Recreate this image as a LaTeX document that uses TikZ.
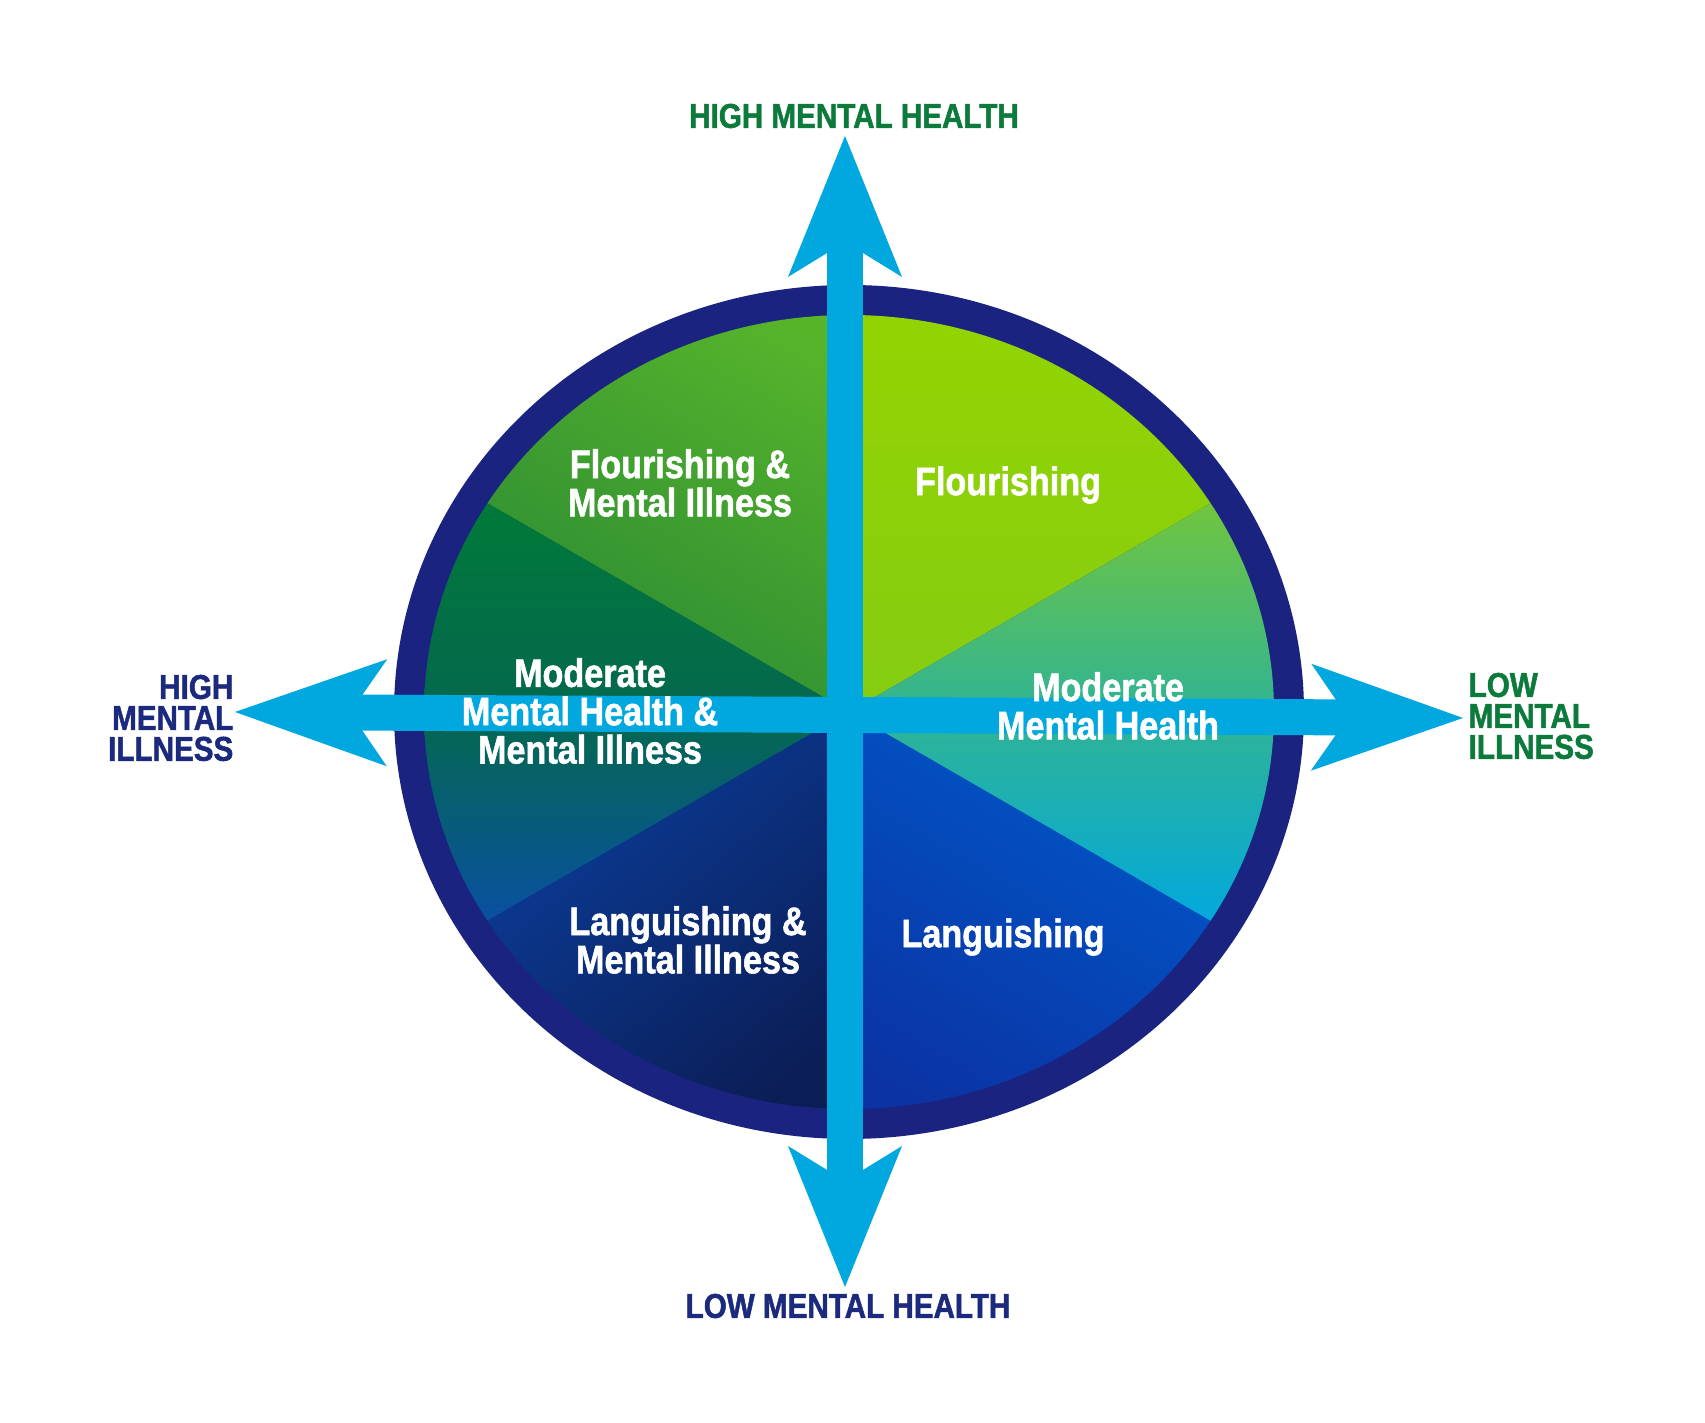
\documentclass[tikz,border=0pt]{standalone}
\usepackage{fontspec}
\newfontfamily\condsans{Liberation Sans}[FakeStretch=0.86, FakeBold=1.4]
\usetikzlibrary{arrows.meta}

\definecolor{ringnavy}{HTML}{1A2480}
\definecolor{axiscyan}{HTML}{00A8DF}
\definecolor{labelgreen}{HTML}{0B7A3B}
\definecolor{labelnavy}{HTML}{1C2A7E}
\definecolor{flourA}{HTML}{93D500}
\definecolor{flourB}{HTML}{86CC12}
\definecolor{fmiA}{HTML}{56B42B}
\definecolor{fmiB}{HTML}{2A8A34}
\definecolor{mmiA}{HTML}{007A38}
\definecolor{mmiM}{HTML}{04684E}
\definecolor{mmiB}{HTML}{0A4FA5}
\definecolor{lmiA}{HTML}{0B3E9C}
\definecolor{lmiB}{HTML}{0B1D55}
\definecolor{langA}{HTML}{0058CA}
\definecolor{langB}{HTML}{0B33A4}
\definecolor{mmhA}{HTML}{74C63A}
\definecolor{mmhM}{HTML}{30B494}
\definecolor{mmhB}{HTML}{00A8E0}

\tikzset{
  vtip/.tip={Stealth[length=14.1mm, width=11.4mm, inset=3.5mm, line width=0pt]},
  htip/.tip={Stealth[length=15.2mm, width=10.7mm, inset=3.7mm, line width=0pt]}
}

\begin{document}
\begin{tikzpicture}[x=0.1mm, y=0.1mm,
    sectortext/.style={text=white, inner sep=0pt, align=center,
      font=\condsans\bfseries\fontsize{11.3}{10.9}\selectfont},
    axislabel/.style={inner sep=0pt, font=\condsans\bfseries\fontsize{9.8}{8.8}\selectfont},
    axisarrow/.style={line width=3.6mm, draw=axiscyan}]
  \useasboundingbox[fill=white] (0,0) rectangle (1705,1423);
  \coordinate (c) at (849,711);

  % outer ring
  \fill[ringnavy] (c) ellipse[x radius=455, y radius=427];

  % the six sectors
  \begin{scope}
    \clip (c) ellipse[x radius=425, y radius=397];
    \shade[top color=flourA, bottom color=flourB] (c) -- ++(30:440) arc[start angle=30, end angle=90, radius=440] -- cycle;
    \shade[top color=fmiA, bottom color=fmiB, shading angle=-30] (c) -- ++(90:440) arc[start angle=90, end angle=150, radius=440] -- cycle;
    \shade[top color=mmiA, bottom color=mmiB, middle color=mmiM] (c) -- ++(150:440) arc[start angle=150, end angle=210, radius=440] -- cycle;
    \shade[top color=lmiA, bottom color=lmiB, shading angle=40] (c) -- ++(210:440) arc[start angle=210, end angle=270, radius=440] -- cycle;
    \shade[top color=langA, bottom color=langB, shading angle=-30] (c) -- ++(270:440) arc[start angle=270, end angle=330, radius=440] -- cycle;
    \shade[top color=mmhA, bottom color=mmhB, middle color=mmhM] (c) -- ++(-30:440) arc[start angle=-30, end angle=30, radius=440] -- cycle;
  \end{scope}

  % axes
  \coordinate (highmh) at (845,1287);
  \coordinate (lowmh) at (845,136);
  \coordinate (highmi) at (235,711);
  \coordinate (lowmi) at (1463,705);
  \draw[axisarrow, htip-htip] (highmi) -- (lowmi);
  \draw[axisarrow, vtip-vtip] (lowmh) -- (highmh);

  % sector names
  \node[sectortext] (flmi) at (680,940) {Flourishing \&\\Mental Illness};
  \node[sectortext] (fl) at (1008,938) {Flourishing};
  \node[sectortext] (modmi) at (590,712) {Moderate\\Mental Health \&\\Mental Illness};
  \node[sectortext] (mod) at (1108,717) {Moderate\\Mental Health};
  \node[sectortext] (lgmi) at (688,483) {Languishing \&\\Mental Illness};
  \node[sectortext] (lg) at (1003,486) {Languishing};

  % axis names
  \node[axislabel, text=labelgreen] (hmh) at (854,1307) {HIGH MENTAL HEALTH};
  \node[axislabel, text=labelnavy] (lmh) at (848,117) {LOW MENTAL HEALTH};
  \node[axislabel, text=labelnavy, align=right, anchor=east] (hmi) at (234,705) {HIGH\\MENTAL\\ILLNESS};
  \node[axislabel, text=labelgreen, align=left, anchor=west] (lmi) at (1468,707) {LOW\\MENTAL\\ILLNESS};
\end{tikzpicture}
\end{document}
